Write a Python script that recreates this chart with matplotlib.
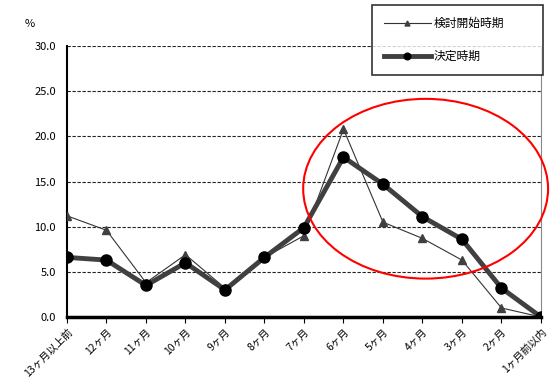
import matplotlib
matplotlib.use("Agg")
import matplotlib.pyplot as plt
from matplotlib.patches import Ellipse

plt.rcParams['font.family'] = ['Noto Sans CJK JP', 'DejaVu Sans']

categories = ["13ヶ月以上前", "12ヶ月", "11ヶ月", "10ヶ月", "9ヶ月", "8ヶ月", "7ヶ月",
              "6ヶ月", "5ヶ月", "4ヶ月", "3ヶ月", "2ヶ月", "1ヶ月前以内"]
kento = [11.2, 9.6, 3.8, 6.9, 3.2, 6.6, 9.0, 20.8, 10.5, 8.7, 6.3, 1.0, 0.0]
kettei = [6.6, 6.3, 3.5, 6.0, 3.0, 6.6, 9.9, 17.7, 14.7, 11.1, 8.6, 3.2, 0.0]
yticks = [0, 5, 10, 15, 20, 25, 30]

fig = plt.figure(figsize=(5.55, 3.79), dpi=100)
ax = fig.add_axes([0.1207, 0.1636, 0.854, 0.715])

x = list(range(len(categories)))

ax.plot(x, kento, color="#333333", lw=0.8, marker="^", ms=6,
        mfc="#404040", mec="#404040", label="検討開始時期", zorder=3)
ax.plot(x, kettei, color="#404040", lw=3.5, marker="o", ms=8,
        mfc="black", mec="black", label="決定時期", zorder=4)

ax.set_xlim(0, len(categories) - 1)
ax.set_ylim(0, 30)
ax.set_yticks(yticks)
ax.set_yticklabels([f"{v:.1f}" for v in yticks], fontsize=8)
ax.set_xticks(x)
ax.set_xticklabels(categories, rotation=45, ha="right", rotation_mode="anchor", fontsize=7.5)
ax.tick_params(axis="y", length=0, pad=8)
ax.tick_params(axis="x", length=4, direction="out", pad=3)

# dashed horizontal grid
for v in yticks[1:]:
    ax.axhline(v, color="#222222", lw=0.8, ls=(0, (3, 1.5)), zorder=1)

ax.spines["top"].set_visible(False)
ax.spines["right"].set_color("#888888")
ax.spines["right"].set_linewidth(0.8)
ax.spines["left"].set_linewidth(1.5)
ax.spines["bottom"].set_linewidth(2.5)
ax.spines["bottom"].set_zorder(5)

# red highlight ellipse
ell = Ellipse((9.08, 14.2), 6.2, 19.9, fill=False, edgecolor="red", lw=1.5,
              clip_on=False, zorder=6)
ax.add_patch(ell)

fig.text(25 / 555, 1 - 24 / 379, "%", fontsize=8, ha="left", va="center")

leg = ax.legend(loc="upper left",
                bbox_to_anchor=(372 / 555, 1 - 73 / 379, 171 / 555, 68 / 379),
                bbox_transform=fig.transFigure, mode="expand", fontsize=8.5,
                frameon=True, fancybox=False, edgecolor="black", borderpad=1.0,
                labelspacing=1.7, handlelength=4.0, handletextpad=0.2,
                markerscale=0.6, borderaxespad=0)
leg.get_frame().set_linewidth(1.2)

fig.savefig("out.png", dpi=100)
